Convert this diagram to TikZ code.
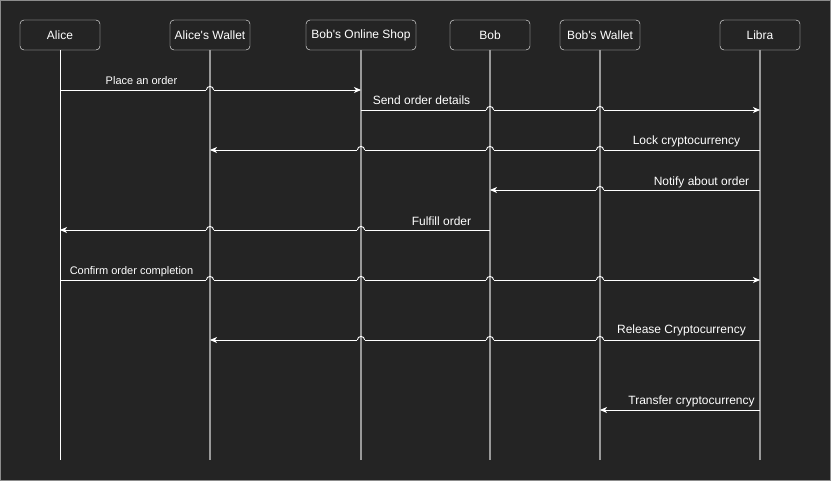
\documentclass[tikz,border=0pt]{standalone}
\usepackage{fontspec}
\setmainfont{Liberation Sans}
\usetikzlibrary{arrows.meta}

\definecolor{canvas}{HTML}{242424}
\definecolor{lifegray}{HTML}{999999}
\definecolor{frame}{HTML}{8C8C8C}

\tikzset{
	actor/.style={draw=white, fill=canvas, rounded corners=4pt, minimum width=80pt,
		minimum height=30pt, inner sep=0pt, text=white, font=\fontsize{12}{14}\selectfont},
	life/.style={draw=lifegray, line width=1.6pt},
	msg/.style={draw=white, line width=0.9pt, -{Stealth[length=7pt, width=6pt, inset=2pt]}},
	lbl/.style={text=white, inner sep=1pt, font=\fontsize{12}{14}\selectfont},
	lblsmall/.style={lbl, font=\fontsize{11}{13}\selectfont},
}

\begin{document}
\begin{tikzpicture}[x=1pt, y=-1pt]
		\useasboundingbox (0, 0) rectangle (831, 481);
		\draw [frame, fill=canvas, line width=1pt] (0.5, 0.5) rectangle (830.5, 480.5);

		% participants
		\node [actor] (alice) at (60, 35) {Alice};
		\node [actor] (awallet) at (210, 35) {Alice\textquotesingle s Wallet};
		\node [actor, minimum width=110pt] (shop) at (361, 35) {Bob\textquotesingle s Online Shop};
		\node [actor] (bob) at (490, 35) {Bob};
		\node [actor] (bwallet) at (600, 35) {Bob\textquotesingle s Wallet};
		\node [actor] (libra) at (760, 35) {Libra};

		% lifelines
		\foreach \n in {alice, awallet, shop, bob, bwallet, libra} {
			\coordinate (\n-end) at (\n |- 0, 460);
		}
		\draw [white, line width=0.9pt] (alice) -- (alice-end);
		\foreach \n in {awallet, shop, bob, bwallet, libra} {
			\draw [life] (\n) -- (\n-end);
		}

		% messages
		\draw [msg] (alice |- 0, 90) -- (shop |- 0, 90);
		\draw [msg] (shop |- 0, 110) -- (libra |- 0, 110);
		\draw [msg] (libra |- 0, 150) -- (awallet |- 0, 150);
		\draw [msg] (libra |- 0, 190) -- (bob |- 0, 190);
		\draw [msg] (bob |- 0, 230) -- (alice |- 0, 230);
		\draw [msg] (alice |- 0, 280) -- (libra |- 0, 280);
		\draw [msg] (libra |- 0, 340) -- (awallet |- 0, 340);
		\draw [msg] (libra |- 0, 410) -- (bwallet |- 0, 410);

		% line jumps
		\foreach \x/\y in {210/90, 490/110, 600/110, 361/150, 490/150, 600/150, 600/190,
				210/230, 361/230, 210/280, 361/280, 490/280, 600/280, 361/340, 490/340, 600/340} {
			\fill [canvas] (\x-3.6, \y-1.2) rectangle (\x+3.6, \y+1.2);
			\draw [life] (\x, \y-4) -- (\x, \y+4);
			\draw [white, line width=0.9pt] (\x-3.6, \y) arc [start angle=180, end angle=0, radius=3.6pt];
		}

		% labels
		\node [lblsmall] (l-place) at (141.5, 81) {Place an order};
		\node [lbl] (l-send) at (421.5, 100.5) {Send order details};
		\node [lbl] (l-lock) at (686.5, 141.5) {Lock cryptocurrency};
		\node [lbl] (l-notify) at (701.5, 182) {Notify about order};
		\node [lbl] (l-fulfill) at (441.5, 221.5) {Fulfill order};
		\node [lblsmall] (l-confirm) at (131.5, 271.5) {Confirm order completion};
		\node [lbl] (l-release) at (681.5, 330.5) {Release Cryptocurrency};
		\node [lbl] (l-transfer) at (691.5, 401.5) {Transfer cryptocurrency};
	\end{tikzpicture}
\end{document}
